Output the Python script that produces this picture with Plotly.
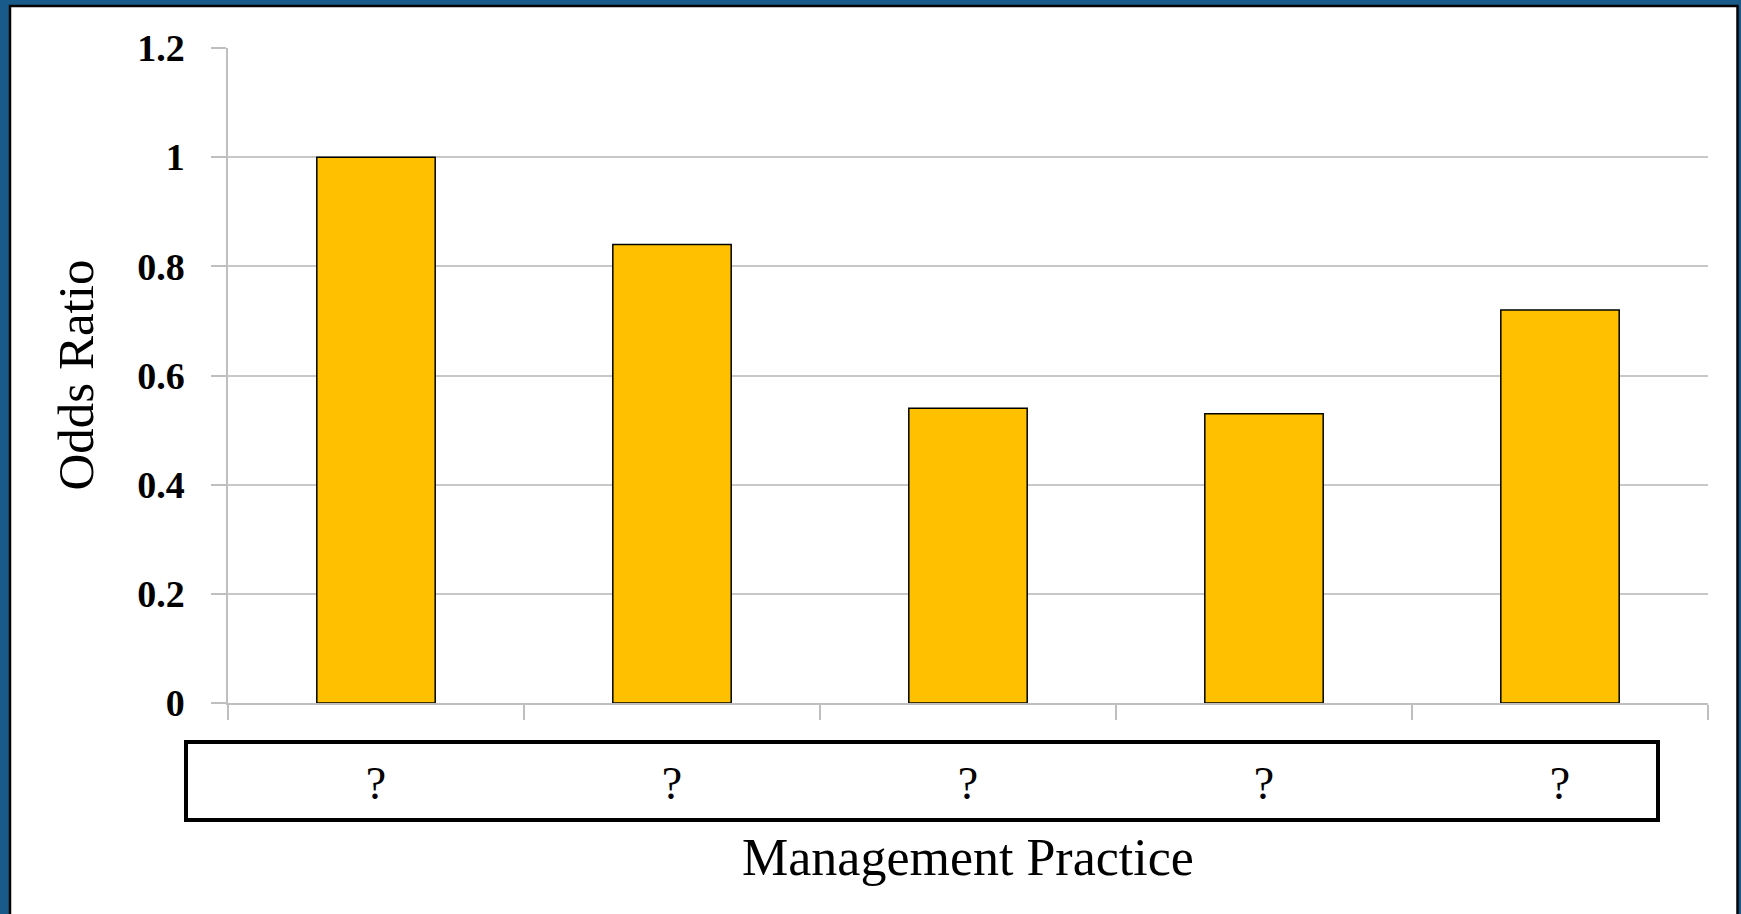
import plotly.graph_objects as go

categories = ["?", "?", "?", "?", "?"]
odds_ratio = [1.0, 0.84, 0.54, 0.53, 0.72]
y_ticks = [0, 0.2, 0.4, 0.6, 0.8, 1, 1.2]
y_tick_labels = ["0", "0.2", "0.4", "0.6", "0.8", "1", "1.2"]

W, H = 1741, 914
ML, MR, MT, MB = 228, 33, 48, 211
PW, PH = W - ML - MR, H - MT - MB


def px_x(p):
    return (p - ML) / PW


def px_y(p):
    return (H - MB - p) / PH


FONT = "Liberation Serif"
x_idx = list(range(len(categories)))

fig = go.Figure()
fig.add_trace(go.Bar(
    x=x_idx, y=odds_ratio, width=0.4,
    marker=dict(color="#FFC000", line=dict(color="#000000", width=1.5)),
    showlegend=False,
))

shapes = [
    # white card with thin black border on blue background
    dict(type="rect", xref="paper", yref="paper", layer="below",
         x0=px_x(10), x1=px_x(1737.5), y0=px_y(930), y1=px_y(6),
         fillcolor="white", line=dict(color="#050505", width=2.5)),
    # category label box
    dict(type="rect", xref="paper", yref="paper", layer="above",
         x0=px_x(186), x1=px_x(1658), y0=px_y(820), y1=px_y(742),
         fillcolor="rgba(0,0,0,0)", line=dict(color="#000000", width=4)),
]

annotations = [
    dict(text="Management Practice", xref="paper", yref="paper",
         x=0.5, y=px_y(857), xanchor="center", yanchor="middle",
         showarrow=False, font=dict(family=FONT, size=52, color="#000000")),
    dict(text="Odds Ratio", xref="paper", yref="paper",
         x=px_x(75), y=0.5, xanchor="center", yanchor="middle", textangle=-90,
         showarrow=False, font=dict(family=FONT, size=51, color="#000000")),
]

fig.update_layout(
    width=W, height=H,
    margin=dict(l=ML, r=MR, t=MT, b=MB, autoexpand=False),
    paper_bgcolor="#185b8a",
    plot_bgcolor="rgba(0,0,0,0)",
    shapes=shapes,
    annotations=annotations,
    bargap=0.6,
    xaxis=dict(
        range=[-0.5, len(categories) - 0.5],
        tickmode="array", tickvals=x_idx, ticktext=categories,
        ticks="", showgrid=False,
        showline=True, linecolor="#bfbfbf", linewidth=1.5,
        ticklabelstandoff=39,
        tickfont=dict(family=FONT, size=46, color="#000000"),
        minor=dict(tickmode="array",
                   tickvals=[i - 0.5 for i in range(len(categories) + 1)],
                   ticks="outside", ticklen=15, tickcolor="#bfbfbf", tickwidth=1.5,
                   showgrid=False),
        zeroline=False, fixedrange=True,
    ),
    yaxis=dict(
        range=[0, 1.2],
        tickmode="array", tickvals=y_ticks, ticktext=y_tick_labels,
        ticks="outside", ticklen=15, tickcolor="#bfbfbf", tickwidth=1.5,
        showgrid=True, gridcolor="#c8c8c8", gridwidth=1.5,
        showline=True, linecolor="#bfbfbf", linewidth=1.5,
        ticklabelstandoff=19,
        tickfont=dict(family=FONT, size=38, color="#000000", weight="bold"),
        zeroline=False, fixedrange=True,
    ),
)

fig.write_html("out.html")
